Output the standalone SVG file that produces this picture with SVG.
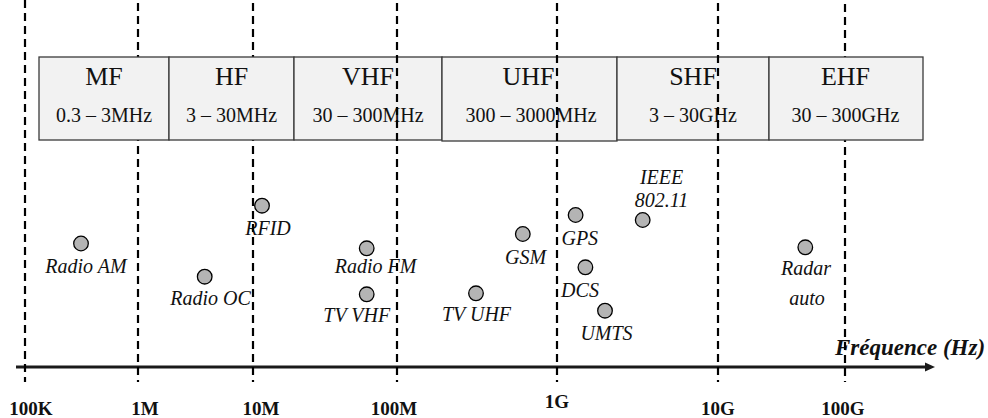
<svg xmlns="http://www.w3.org/2000/svg" width="988" height="418" viewBox="0 0 988 418">
<style>
.grid{stroke:#000;stroke-width:2.2;stroke-dasharray:8 5;fill:none}
.band rect{fill:#f2f2f2;stroke:#3a3a3a;stroke-width:1.3}
.bn{font-family:"Liberation Serif","Times New Roman",serif;font-size:26px;fill:#111;text-anchor:middle}
.br{font-family:"Liberation Serif","Times New Roman",serif;font-size:20px;fill:#111;text-anchor:middle}
.pt circle{fill:#b4b4b4;stroke:#000;stroke-width:1.3}
.lb{font-family:"Liberation Serif","Times New Roman",serif;font-style:italic;font-size:20px;fill:#111;text-anchor:middle}
.tk{font-family:"Liberation Serif","Times New Roman",serif;font-weight:bold;font-size:19px;fill:#111;text-anchor:middle}
.ax{font-family:"Liberation Serif","Times New Roman",serif;font-weight:bold;font-style:italic;font-size:23px;fill:#111}
</style>

<g id="points">
  <g id="radio-am" class="pt"><circle cx="81" cy="243.5" r="7.3"/><text class="lb" x="86" y="273">Radio AM</text></g>
  <g id="radio-oc" class="pt"><circle cx="204.7" cy="276.7" r="7.3"/><text class="lb" x="210.5" y="305">Radio OC</text></g>
  <g id="rfid" class="pt"><circle cx="262" cy="205.7" r="7.3"/><text class="lb" x="268" y="235">RFID</text></g>
  <g id="radio-fm" class="pt"><circle cx="366.7" cy="248.3" r="7.3"/><text class="lb" x="375.5" y="273">Radio FM</text></g>
  <g id="tv-vhf" class="pt"><circle cx="366.7" cy="294.3" r="7.3"/><text class="lb" x="356.7" y="322">TV VHF</text></g>
  <g id="tv-uhf" class="pt"><circle cx="476" cy="293.3" r="7.3"/><text class="lb" x="476.5" y="321">TV UHF</text></g>
  <g id="gsm" class="pt"><circle cx="522.8" cy="234" r="7.3"/><text class="lb" x="525.5" y="264">GSM</text></g>
  <g id="gps" class="pt"><circle cx="575.6" cy="215" r="7.3"/><text class="lb" x="579.8" y="245">GPS</text></g>
  <g id="ieee" class="pt"><circle cx="642.7" cy="220" r="7.3"/><text class="lb" x="661.6" y="184">IEEE</text><text class="lb" x="661.4" y="206.7">802.11</text></g>
  <g id="dcs" class="pt"><circle cx="585.4" cy="267.3" r="7.3"/><text class="lb" x="580" y="296.7">DCS</text></g>
  <g id="umts" class="pt"><circle cx="605" cy="310.7" r="7.3"/><text class="lb" x="606.5" y="340">UMTS</text></g>
  <g id="radar" class="pt"><circle cx="805.3" cy="247.3" r="7.3"/><text class="lb" x="806" y="275">Radar</text><text class="lb" x="807" y="305">auto</text></g>
</g>

<g id="axis">
  <line x1="16" y1="367" x2="927" y2="367" stroke="#1a1a1a" stroke-width="3"/>
  <polygon points="935,367 925,362.5 925,371.5" fill="#1a1a1a"/>
  <text class="ax" x="835" y="355">Fréquence (Hz)</text>
</g>

<g id="grid-back">
  <line class="grid" x1="25" y1="0" x2="25" y2="382"/>
  <line class="grid" x1="138" y1="3" x2="138" y2="382"/>
  <line class="grid" x1="253" y1="3" x2="253" y2="382"/>
  <line class="grid" x1="845" y1="4" x2="845" y2="382"/>
</g>

<g id="bands">
  <g id="mf" class="band"><rect x="39" y="57" width="130" height="83"/><text class="bn" x="104" y="85">MF</text><text class="br" x="104" y="122">0.3 – 3MHz</text></g>
  <g id="hf" class="band"><rect x="169" y="57" width="125" height="83"/><text class="bn" x="231.5" y="85">HF</text><text class="br" x="231.5" y="122">3 – 30MHz</text></g>
  <g id="vhf" class="band"><rect x="294" y="57" width="148" height="83"/><text class="bn" x="368" y="85">VHF</text><text class="br" x="368" y="122">30 – 300MHz</text></g>
  <g id="uhf" class="band"><rect x="442" y="57" width="175" height="84"/><text class="bn" x="528.5" y="85">UHF</text><text class="br" x="531" y="122">300 – 3000MHz</text></g>
  <g id="shf" class="band"><rect x="617" y="57" width="152" height="83"/><text class="bn" x="693" y="85">SHF</text><text class="br" x="693" y="122">3 – 30GHz</text></g>
  <g id="ehf" class="band"><rect x="769" y="57" width="154" height="83"/><text class="bn" x="845.5" y="85">EHF</text><text class="br" x="845.5" y="122">30 – 300GHz</text></g>
</g>

<g id="grid-front">
  <line class="grid" x1="397" y1="3" x2="397" y2="382"/>
  <line class="grid" x1="557" y1="3" x2="557" y2="382"/>
  <line class="grid" x1="718" y1="3" x2="718" y2="382"/>
</g>

<g id="ticks">
  <text class="tk" x="31" y="415">100K</text>
  <text class="tk" x="145" y="415">1M</text>
  <text class="tk" x="261" y="415">10M</text>
  <text class="tk" x="394" y="415">100M</text>
  <text class="tk" x="557" y="408">1G</text>
  <text class="tk" x="718" y="415">10G</text>
  <text class="tk" x="843" y="415">100G</text>
</g>
</svg>
